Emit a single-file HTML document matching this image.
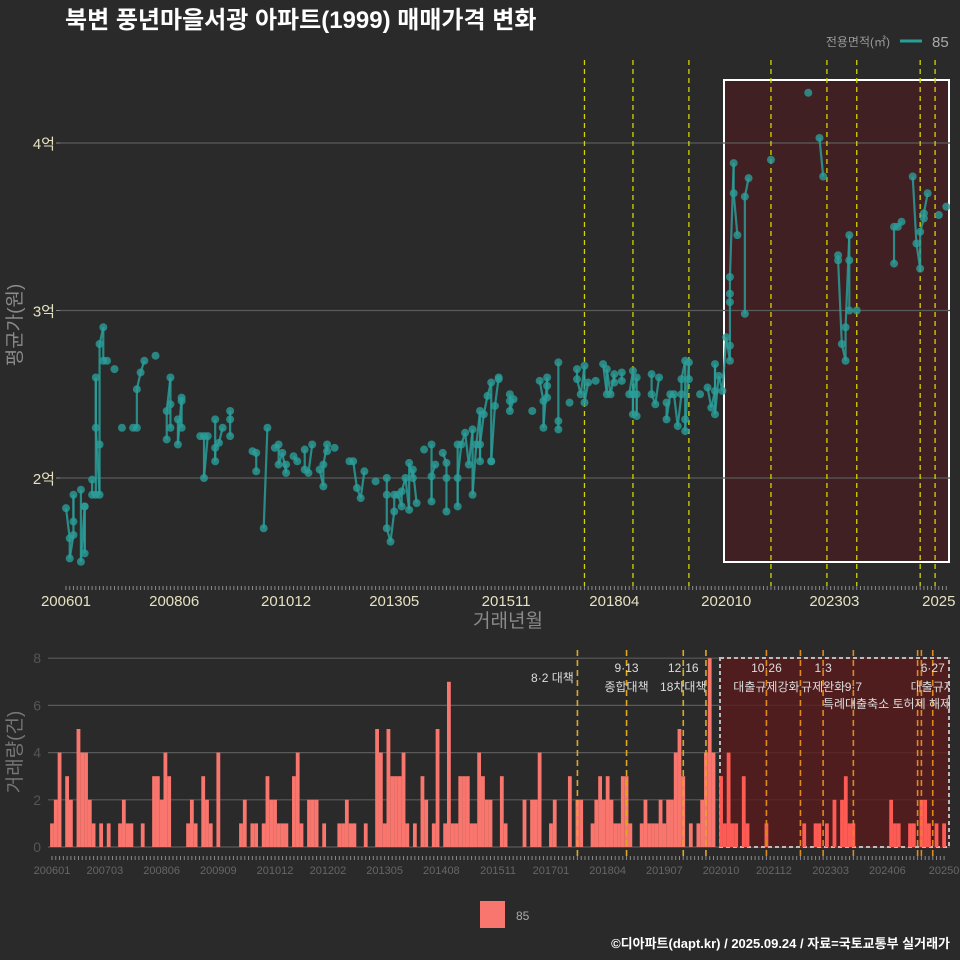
<!DOCTYPE html>
<html><head><meta charset="utf-8">
<style>
html,body{margin:0;padding:0;background:#2a2a2a;}
svg{display:block;font-family:"Liberation Sans","Noto Sans CJK KR",sans-serif;}
</style></head>
<body>
<svg id="chart" width="960" height="960" viewBox="0 0 960 960" xmlns="http://www.w3.org/2000/svg">
<defs>
<clipPath id="clipTop"><rect x="60" y="50" width="890" height="550"/></clipPath>
<clipPath id="clipBot"><rect x="40" y="640" width="910" height="230"/></clipPath>
</defs>
<rect x="0" y="0" width="960" height="960" fill="#2a2a2a"/>
<text x="65" y="28" font-size="24" font-weight="bold" fill="#ffffff">북변 풍년마을서광 아파트(1999) 매매가격 변화</text>
<g>
<text x="890" y="46" font-size="12" fill="#999" text-anchor="end">전용면적(㎡)</text>
<line x1="900" y1="41" x2="922" y2="41" stroke="#2a9d99" stroke-width="3"/>
<text x="932" y="47" font-size="15" fill="#aaa">85</text>
</g>
<g id="topPanel"></g>
<g id="botPanel"></g>
<g>
<rect x="480" y="901" width="25" height="27" fill="#f8766d"/>
<text x="516" y="920" font-size="12" fill="#aaa">85</text>
</g>
<text x="950" y="948" font-size="13" font-weight="bold" fill="#ffffff" text-anchor="end">©디아파트(dapt.kr) / 2025.09.24 / 자료=국토교통부 실거래가</text>
</svg>
<script>
// ---- data ----
const NMONTH = 237; // 2006-01 .. 2025-09
const priceMonths = [0,1,1,2,2,2,4,4,5,5,5,7,7,8,8,8,9,9,9,10,10,11,13,15,18,19,19,20,21,24,27,27,28,28,28,30,30,31,31,31,36,37,37,38,40,40,40,41,42,44,44,44,50,51,51,53,54,56,57,57,58,59,59,61,62,64,64,65,66,68,69,69,70,70,72,76,77,78,79,80,83,86,86,86,87,88,88,89,90,90,91,92,92,93,93,94,96,98,98,98,99,101,102,102,102,105,105,105,106,107,108,109,109,110,111,111,111,112,113,114,114,114,115,116,116,119,119,119,120,125,127,128,128,129,129,129,132,132,132,135,137,137,138,139,139,140,142,144,145,145,146,147,147,149,149,151,152,152,152,153,153,153,157,157,158,159,161,161,162,163,164,165,165,166,166,166,167,167,170,172,173,174,174,174,175,176,177,178,178,178,178,178,179,179,180,182,182,183,189,199,202,203,207,207,208,209,209,210,210,210,212,222,222,223,224,227,228,229,229,230,230,231,234,236];
const priceValues = [1.82,1.64,1.52,1.66,1.90,1.74,1.93,1.50,1.83,1.55,1.83,1.99,1.90,1.90,2.60,2.30,1.90,2.20,2.80,2.90,2.70,2.70,2.65,2.30,2.30,2.30,2.53,2.63,2.70,2.73,2.23,2.40,2.60,2.44,2.30,2.35,2.20,2.48,2.46,2.30,2.25,2.25,2.00,2.25,2.35,2.10,2.18,2.21,2.30,2.40,2.35,2.25,2.16,2.15,2.04,1.70,2.30,2.18,2.20,2.08,2.15,2.03,2.08,2.13,2.10,2.17,2.05,2.03,2.20,2.05,1.95,2.08,2.20,2.16,2.18,2.10,2.10,1.94,1.88,2.04,1.98,2.00,1.90,1.70,1.62,1.80,1.90,1.90,1.83,1.92,2.00,1.81,2.09,2.00,2.05,1.85,2.17,2.20,1.86,2.01,2.08,2.15,2.09,2.00,1.80,2.20,1.83,2.00,2.20,2.27,2.08,2.29,1.90,2.20,2.40,2.10,2.20,2.38,2.49,2.57,2.10,2.10,2.43,2.60,2.59,2.50,2.46,2.40,2.47,2.40,2.58,2.46,2.30,2.60,2.55,2.48,2.69,2.34,2.29,2.45,2.65,2.59,2.50,2.67,2.45,2.57,2.58,2.68,2.50,2.65,2.50,2.62,2.57,2.63,2.58,2.50,2.64,2.38,2.50,2.60,2.37,2.50,2.62,2.50,2.44,2.60,2.45,2.35,2.50,2.50,2.31,2.50,2.59,2.70,2.35,2.28,2.69,2.59,2.50,2.54,2.42,2.52,2.68,2.38,2.61,2.52,2.84,2.70,2.79,3.05,3.10,3.20,3.88,3.70,3.45,2.98,3.68,3.79,3.90,4.30,4.03,3.80,3.33,3.30,2.80,2.70,2.90,3.45,3.30,3.00,3.00,3.28,3.50,3.50,3.53,3.80,3.40,3.25,3.47,3.55,3.58,3.70,3.57,3.62];
const volumeByMonth = new Array(NMONTH).fill(0);
const volMonths = [0,1,2,4,5,7,8,9,10,11,13,15,18,19,20,21,24,27,28,29,30,31,36,37,38,40,41,42,44,50,51,53,54,56,57,58,59,60,61,62,64,65,66,68,69,70,72,76,77,78,79,80,83,86,87,88,89,90,91,92,93,94,96,98,99,101,102,104,105,106,107,108,109,110,111,112,113,114,115,116,119,120,125,127,128,129,132,133,137,139,140,143,144,145,146,147,148,149,150,151,152,153,156,157,158,159,160,161,162,163,164,165,166,167,169,171,172,173,174,175,177,178,179,180,181,183,184,189,199,202,203,205,207,209,210,211,212,222,223,224,227,228,230,231,232,234,236];
const volCounts = [1,2,4,3,2,5,4,4,2,1,1,1,1,2,1,1,1,3,3,2,4,3,1,2,1,3,2,1,4,1,2,1,1,1,3,2,2,1,1,1,3,4,1,2,2,2,1,1,1,2,1,1,1,5,4,1,5,3,3,3,4,1,1,3,2,1,5,1,7,1,1,3,3,3,1,1,4,3,2,2,3,1,2,2,2,4,1,2,3,2,2,1,2,3,2,3,2,1,1,3,3,1,1,2,1,1,1,2,1,2,2,4,5,3,1,1,2,4,8,4,3,1,4,1,1,3,1,1,1,1,1,1,2,2,3,1,1,2,1,1,1,1,2,2,1,1,1];
const topTickLabels = ["200601","200806","201012","201305","201511","201804","202010","202303","2025"];
const topTickMonths = [0,29,59,88,118,147,177,206,234];
const botTickLabels = ["200601","200703","200806","200909","201012","201202","201305","201408","201511","201701","201804","201907","202010","202112","202303","202406","20250"];
const botTickMonths = [0,14,29,44,59,73,88,103,118,132,147,162,177,191,206,221,236];
const priceTicks = [2,3,4];
const priceTickLabels = ["2억","3억","4억"];
const volTicks = [0,2,4,6,8];
const topEventMonths = [139,152,167,189,204,212,229,233];
const botEventMonths = [139,152,167,173,189,198,204,212,229,230,233];
const eventTitles = ["8·2 대책","9·13","12·16","10·26","1·3","6·27"];
const eventTitleMonths = [139,152,167,189,204,233];
const eventSubs = ["종합대책","18차대책","대출규제강화","규제완화","9·7","대출규제"];
const eventSubMonths = [152,167,189,204,212,233];

// ---- scales ----
const xT = m => 66 + 3.73*m;
const yT = p => 478 - (p-2)*167.5;
const xB = m => 52 + 3.78*m;
const yB = v => 847 - v*23.6;
const NS = "http://www.w3.org/2000/svg";
function mk(tag, attrs, parent){const el=document.createElementNS(NS,tag);for(const k in attrs)el.setAttribute(k,attrs[k]);parent.appendChild(el);return el;}
for(let i=0;i<volMonths.length;i++) volumeByMonth[volMonths[i]] = volCounts[i];

// ---- top panel ----
const topG = document.getElementById('topPanel');
let el;
el = mk('rect',{x:724,y:80,width:225,height:482,fill:'#4a1e22',"fill-opacity":0.75,stroke:'#ffffff','stroke-width':2},topG);


priceTicks.forEach((t,i)=>{
  const g = mk('line',{x1:60,x2:950,y1:yT(t),y2:yT(t),stroke:'#5a5a5a','stroke-width':1.2},topG);
  
  
  const tk = mk('line',{x1:56,x2:60,y1:yT(t),y2:yT(t),stroke:'#888','stroke-width':1},topG);
  
  
  const l = mk('text',{x:55,y:yT(t)+6,'font-size':15,fill:'#e6e2c0','text-anchor':'end'},topG);
  l.textContent = priceTickLabels[i];
  
  
});
topEventMonths.forEach(m=>{
  const l = mk('line',{x1:xT(m),x2:xT(m),y1:60,y2:586,stroke:'#d4d400','stroke-width':1.3,'stroke-dasharray':'5,4'},topG);
  
  
});
for(let m=0;m<NMONTH;m++){
  const t = mk('line',{x1:xT(m),x2:xT(m),y1:586,y2:590,stroke:'#8a8a8a','stroke-width':1},topG);
  
  
}
topTickLabels.forEach((s,i)=>{
  const t = mk('text',{x:xT(topTickMonths[i]),y:606,'font-size':15,fill:'#e6e2c0','text-anchor':'middle'},topG);
  t.textContent = s;
  
  
});
const gl = mk('g',{'clip-path':'url(#clipTop)'},topG);


for(let i=1;i<priceMonths.length;i++){
  if(priceMonths[i]-priceMonths[i-1]<=1){
    const s = mk('line',{x1:xT(priceMonths[i-1]),y1:yT(priceValues[i-1]),x2:xT(priceMonths[i]),y2:yT(priceValues[i]),stroke:'#2a9d99','stroke-width':2.2,'stroke-opacity':0.85},gl);
    
    
  }
}
for(let i=0;i<priceMonths.length;i++){
  const c = mk('circle',{cx:xT(priceMonths[i]),cy:yT(priceValues[i]),r:4,fill:'#2a9d99','fill-opacity':0.8},gl);
  
  
}
el = mk('text',{x:508,y:627,'font-size':19,fill:'#8a8a8a','text-anchor':'middle'},topG);
el.textContent='거래년월';


el = mk('text',{x:0,y:0,'font-size':19,fill:'#8a8a8a','text-anchor':'middle',transform:'translate(21,325) rotate(-90)'},topG);
el.textContent='평균가(원)';



// ---- bottom panel ----
const botG = document.getElementById('botPanel');
volTicks.forEach(t=>{
  const g = mk('line',{x1:48,x2:950,y1:yB(t),y2:yB(t),stroke:'#5a5a5a','stroke-width':1.2},botG);
  
  
  const l = mk('text',{x:41,y:yB(t)+5,'font-size':14,fill:'#555','text-anchor':'end'},botG);
  l.textContent = t;
  
  
});
el = mk('rect',{x:720,y:658,width:229,height:189,fill:'#5a1a1c','fill-opacity':0.8,stroke:'#bbbbbb','stroke-width':2,'stroke-dasharray':'4,3'},botG);


const gb = mk('g',{'clip-path':'url(#clipBot)'},botG);


for(let m=0;m<NMONTH;m++){
  const v = volumeByMonth[m];
  if(v<=0) continue;
  const r = mk('rect',{x:xB(m)-1.9,y:yB(v),width:3.8,height:yB(0)-yB(v),fill: m>=177?'#ff5b55':'#f8766d'},gb);
  
  
}
botEventMonths.forEach(m=>{
  const l = mk('line',{x1:xB(m),x2:xB(m),y1:650,y2:857,stroke: m>=177?'#e08a1a':'#e0a81a','stroke-width':1.6,'stroke-dasharray':'6,4'},botG);
  
  
});
for(let m=0;m<NMONTH;m++){
  const t = mk('line',{x1:xB(m),x2:xB(m),y1:856,y2:860,stroke:'#8a8a8a','stroke-width':1},botG);
  
  
}
botTickLabels.forEach((s,i)=>{
  const t = mk('text',{x:xB(botTickMonths[i]),y:874,'font-size':11,fill:'#666','text-anchor':'middle'},botG);
  t.textContent = s;
  
  
});
const ga = mk('g',{'clip-path':'url(#clipBot)'},botG);


eventTitles.forEach((s,i)=>{
  const m = eventTitleMonths[i];
  const t = mk('text',{x: i===0? xB(m)-25 : xB(m), y: i===0?682:672,'font-size':12,fill:'#dddddd','text-anchor':'middle'},ga);
  t.textContent = s;
  
  
});
eventSubs.forEach((s,i)=>{
  const m = eventSubMonths[i];
  const t = mk('text',{x:xB(m),y:691,'font-size':12,fill:'#dddddd','text-anchor':'middle'},ga);
  t.textContent = s;
  
  
});
el = mk('text',{x:887,y:708,'font-size':12,fill:'#dddddd','text-anchor':'middle'},ga);
el.textContent='특례대출축소 토허제 해제';


el = mk('text',{x:0,y:0,'font-size':19,fill:'#777','text-anchor':'middle',transform:'translate(21,752) rotate(-90)'},botG);
el.textContent='거래량(건)';


</script>
</body></html>
